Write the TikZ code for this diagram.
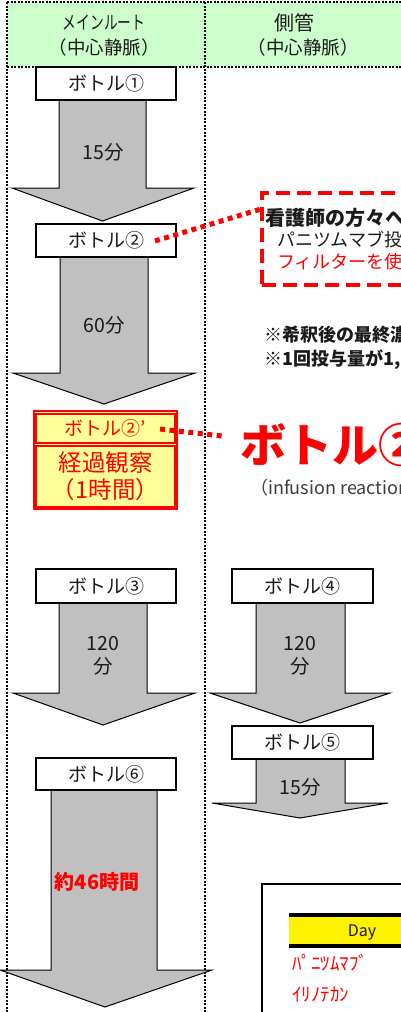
\documentclass[tikz,border=0pt]{standalone}
\usepackage{fontspec}
\setmainfont{Noto Sans CJK JP}
\definecolor{hdrgreen}{HTML}{CCFFCC}
\definecolor{flowgray}{HTML}{C0C0C0}
\definecolor{paleyellow}{HTML}{FFFF99}
\definecolor{txtdark}{HTML}{1A1A1A}
\newcommand{\FS}[2]{\fontsize{#1}{#2}\selectfont}
\begin{document}
\begin{tikzpicture}[x=1pt,y=-1pt,
  gridline/.style={line width=2pt, dash pattern=on 2pt off 1.5pt},
  flow/.style={fill=flowgray, draw=black, line width=1pt, line join=miter},
  bottle/.style={draw=black, line width=2pt, fill=white, minimum width=140pt, minimum height=33pt, inner sep=0pt, text=txtdark, font=\FS{19}{19}},
  lbl/.style={inner sep=0pt, align=center, text=txtdark, font=\FS{19.5}{23}},
  txt/.style={inner sep=0pt, anchor=west},
  reddots/.style={draw=red, line width=5pt, dash pattern=on 5pt off 4.5pt},
  warnbox/.style={draw=red, line width=2pt, fill=paleyellow, minimum width=139pt, inner sep=0pt, text=red, align=center},
]
\useasboundingbox (0,0) rectangle (401,1012);
\clip (0,0) rectangle (401,1012);

% header and grid
\fill[hdrgreen] (7,2) rectangle (401,67);
\draw[gridline] (7,2) -- (401,2);
\draw[gridline] (7,67) -- (401,67);
\draw[gridline] (7,2) -- (7,1012);
\draw[gridline] (205,2) -- (205,1012);

\node[lbl, font=\FS{18.5}{18.5}] (h1a) at (104,23) {\scalebox{0.74}[1]{メインルート}};
\node[lbl, font=\FS{18.5}{18.5}] (h1b) at (104,47) {（中心静脈）};
\node[lbl, font=\FS{20}{20}] (h2a) at (294,23) {側管};
\node[lbl, font=\FS{18.5}{18.5}] (h2b) at (303,47) {（中心静脈）};

% flow arrows
\draw[flow] (59,99) -- (59,188) -- (12,188) -- (102.5,221) -- (194,188) -- (146,188) -- (146,99) -- cycle;
\draw[flow] (60,257) -- (60,373) -- (13,373) -- (104,404) -- (195,373) -- (148,373) -- (148,257) -- cycle;
\draw[flow] (59,603) -- (59,693) -- (13,693) -- (103,725) -- (195,693) -- (147,693) -- (147,603) -- cycle;
\draw[flow] (256,603) -- (256,693) -- (210,693) -- (300,723) -- (390,693) -- (345,693) -- (345,603) -- cycle;
\draw[flow] (256,759) -- (256,803) -- (212,803) -- (300,818) -- (388,803) -- (345,803) -- (345,759) -- cycle;
\draw[flow] (51,790) -- (51,970) -- (0,970) -- (105,1007) -- (212,970) -- (157,970) -- (157,790) -- cycle;

% arrow labels
\node[lbl] (l1) at (103,152) {15分};
\node[lbl] (l2) at (104,325) {60分};
\node[lbl] (l3) at (103,656) {120\\分};
\node[lbl] (l4) at (300,656) {120\\分};
\node[lbl] (l5) at (300,787) {15分};
\node[lbl, text=red, font=\FS{20}{20}\bfseries] (l6) at (97,882) {約46時間};

% bottles
\node[bottle] (b1) at (106,83) {ボトル①};
\node[bottle] (b2) at (106,240.5) {ボトル②};
\node[bottle, minimum height=34pt] (b3) at (106,586) {ボトル③};
\node[bottle, minimum width=141pt, minimum height=34pt] (b4) at (302.5,586) {ボトル④};
\node[bottle, minimum width=141pt] (b5) at (302.5,742.5) {ボトル⑤};
\node[bottle, minimum height=32pt] (b6) at (106,774) {ボトル⑥};

% bottle 2' group
\draw[red, line width=2pt, fill=paleyellow] (34,411) rectangle (177,509);
\node[warnbox, minimum height=29pt, font=\FS{19}{19}] (b2p) at (105.5,428.5) {ボトル②’};
\node[warnbox, minimum height=61pt, font=\FS{23.5}{26.5}] (obs) at (105.5,476.5) {経過観察\\（1時間）};

% note box
\node[draw=red, line width=3.3pt, dash pattern=on 14pt off 7pt, anchor=north west,
      minimum width=220pt, minimum height=92pt, inner sep=0pt, outer sep=0pt] (note) at (262,193) {};
\node[txt, font=\FS{20}{20}\bfseries, text=txtdark] (t1) at (265,217.5) {看護師の方々へ};
\node[txt, font=\FS{18}{18}, text=txtdark] (t2) at (277,240) {パニツムマブ投};
\node[txt, font=\FS{18}{18}, text=red] (t3) at (277,262) {フィルターを使};

% notes
\node[txt, font=\FS{18}{18}\bfseries, text=txtdark] (n1) at (264,335) {※希釈後の最終濃};
\node[txt, font=\FS{18}{18}\bfseries, text=txtdark] (n2) at (264,360) {※1回投与量が1,};

% big label
\node[txt, font=\FS{46}{46}\bfseries, text=red] (big) at (240,445) {ボトル②};
\node[txt, font=\FS{18}{18}, text=txtdark!85] (inf) at (250,488) {（infusion reaction};

% red dotted connectors
\coordinate (c1a) at (155,241);
\coordinate (c1b) at (261,209);
\draw[reddots] (c1a) -- (c1b);
\coordinate (c2a) at (160,429);
\coordinate (c2b) at (222,436);
\draw[reddots] (c2a) -- (c2b);

% schedule box (bottom right)
\draw[line width=2pt] (261.5,884) rectangle (440,1040);
\fill[yellow] (289,913) rectangle (440,948);
\draw[line width=4pt] (289,915) -- (440,915);
\draw[line width=4pt] (289,946) -- (440,946);
\node[lbl, font=\FS{16}{16}] (day) at (362,932) {Day};
\node[txt, font=\FS{19}{19}, text=red] (s1) at (292,963) {ﾊﾟﾆﾂﾑﾏﾌﾞ};
\node[txt, font=\FS{19}{19}, text=red] (s2) at (292,995) {ｲﾘﾉﾃｶﾝ};
\end{tikzpicture}
\end{document}
